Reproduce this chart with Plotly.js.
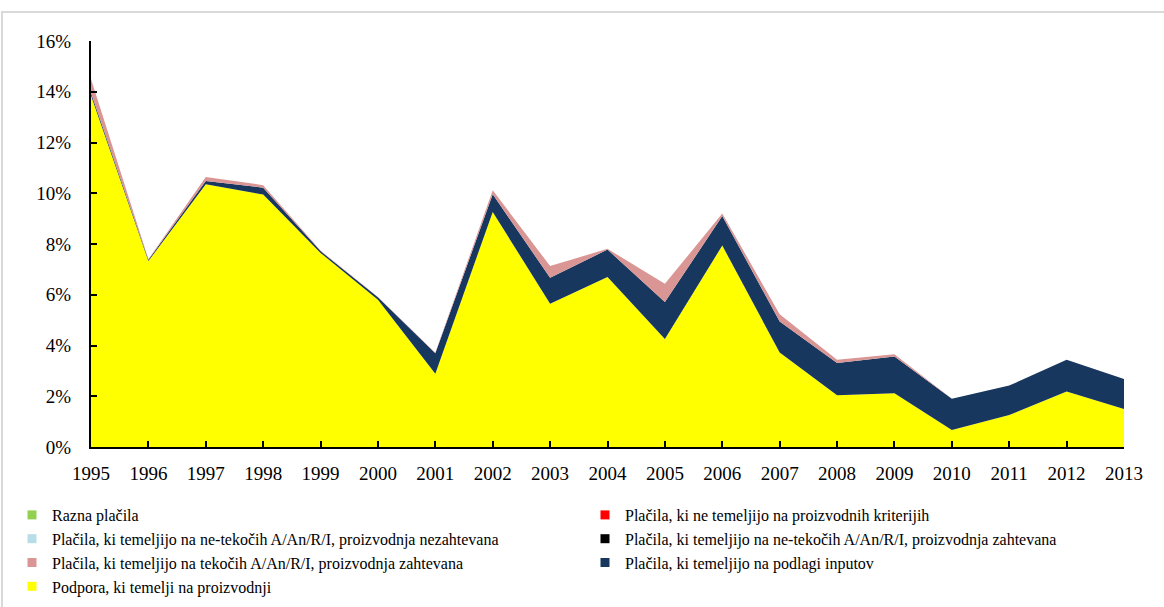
<!DOCTYPE html>
<html>
<head>
<meta charset="utf-8">
<script src="https://cdn.plot.ly/plotly-3.0.1.min.js"></script>
<style>html,body{margin:0;padding:0;background:#fff;}#chart{width:1164px;height:607px;}</style>
</head>
<body>
<div id="chart"></div>
<script>
const years = [1995,1996,1997,1998,1999,2000,2001,2002,2003,2004,2005,2006,2007,2008,2009,2010,2011,2012,2013];
const podpora   = [13.85,7.33,10.35,9.95,7.65,5.80,2.89,9.26,5.65,6.70,4.26,7.94,3.72,2.04,2.12,0.67,1.26,2.19,1.50];
const inputi    = [0.10,0.05,0.13,0.27,0.07,0.10,0.80,0.70,1.02,1.08,1.45,1.16,1.23,1.27,1.45,1.23,1.16,1.25,1.18];
const tekoci    = [0.55,0.02,0.16,0.10,0.02,0.01,0.02,0.16,0.46,0.03,0.72,0.10,0.28,0.13,0.09,0.00,0.00,0.00,0.00];
const netekZaht = [0,0,0,0,0,0,0,0,0,0,0,0,0,0,0,0,0,0,0];
const netekNez  = [0,0,0,0,0,0,0,0,0,0,0,0,0,0,0,0,0,0,0];
const neProizv  = [0,0,0,0,0,0,0,0,0,0,0,0,0,0,0,0,0,0,0];
const razna     = [0,0,0,0,0,0,0,0,0,0,0,0,0,0,0,0,0,0,0];

const series = {
  podpora:  {name:'Podpora, ki temelji na proizvodnji', y:podpora, color:'#FFFF00'},
  inputi:   {name:'Plačila, ki temeljijo na podlagi inputov', y:inputi, color:'#17375E'},
  tekoci:   {name:'Plačila, ki temeljijo na tekočih A/An/R/I, proizvodnja zahtevana', y:tekoci, color:'#D99694'},
  netekZ:   {name:'Plačila, ki temeljijo na ne-tekočih A/An/R/I, proizvodnja zahtevana', y:netekZaht, color:'#000000'},
  netekN:   {name:'Plačila, ki temeljijo na ne-tekočih A/An/R/I, proizvodnja nezahtevana', y:netekNez, color:'#B7DEE8'},
  neProizv: {name:'Plačila, ki ne temeljijo na proizvodnih kriterijih', y:neProizv, color:'#FF0000'},
  razna:    {name:'Razna plačila', y:razna, color:'#92D050'}
};
const stackOrder = ['podpora','inputi','tekoci','netekZ','netekN','neProizv','razna'];
const legendLeft = ['razna','netekN','tekoci','podpora'];
const legendRight = ['neProizv','netekZ','inputi'];

const traces = [];
stackOrder.forEach(k => {
  const s = series[k];
  traces.push({x:years, y:s.y, type:'scatter', mode:'none', stackgroup:'one', fillcolor:s.color,
    line:{width:0}, showlegend:false, hoverinfo:'skip'});
});
function legendTrace(k, leg) {
  const s = series[k];
  return {x:[null], y:[null], type:'scatter', mode:'markers', name:s.name, legend:leg,
    marker:{symbol:'square', size:9, color:s.color}, showlegend:true};
}
legendLeft.forEach(k => traces.push(legendTrace(k, 'legend')));
legendRight.forEach(k => traces.push(legendTrace(k, 'legend2')));

const font = {family:'"Liberation Serif", "Times New Roman", serif', color:'#000'};
const W = 1164, H = 607;
const L = 91, R = 1124, T = 41, B = 447;
const pw = R - L, ph = B - T;
const legBase = {orientation:'v', traceorder:'normal', xref:'container', yref:'container',
  xanchor:'left', yanchor:'top', font:Object.assign({size:16}, font),
  bgcolor:'rgba(0,0,0,0)', itemclick:false, itemdoubleclick:false, tracegroupgap:0};

const layout = {
  width:W, height:H,
  margin:{l:L, r:W-R, t:T, b:H-B, pad:0, autoexpand:false},
  paper_bgcolor:'#fff', plot_bgcolor:'#fff',
  showlegend:true,
  font:Object.assign({size:18}, font),
  xaxis:{range:[1995,2013], dtick:1, tick0:1995, showgrid:false, zeroline:false,
    showline:true, linecolor:'#000', linewidth:2, ticks:'inside', ticklen:6, tickwidth:2, tickcolor:'#000',
    ticklabelstandoff:8, tickfont:Object.assign({size:19}, font), fixedrange:true},
  yaxis:{range:[0,16], dtick:2, ticksuffix:'%', showgrid:false, zeroline:false,
    showline:true, linecolor:'#000', linewidth:2, ticks:'inside', ticklen:6, tickwidth:2, tickcolor:'#000',
    ticklabelstandoff:14, tickfont:Object.assign({size:19}, font), fixedrange:true},
  legend:Object.assign({}, legBase, {x:12/W, y:(H-498)/H}),
  legend2:Object.assign({}, legBase, {x:585/W, y:(H-498)/H}),
  shapes:[{type:'rect', xref:'paper', yref:'paper',
    x0:(2-L)/pw, x1:(1175-L)/pw, y0:(B-620)/ph, y1:(B-12)/ph,
    line:{color:'#d9d9d9', width:2}, fillcolor:'rgba(0,0,0,0)', layer:'below'}]
};

Plotly.newPlot('chart', traces, layout, {displayModeBar:false, staticPlot:true});
</script>
</body>
</html>
